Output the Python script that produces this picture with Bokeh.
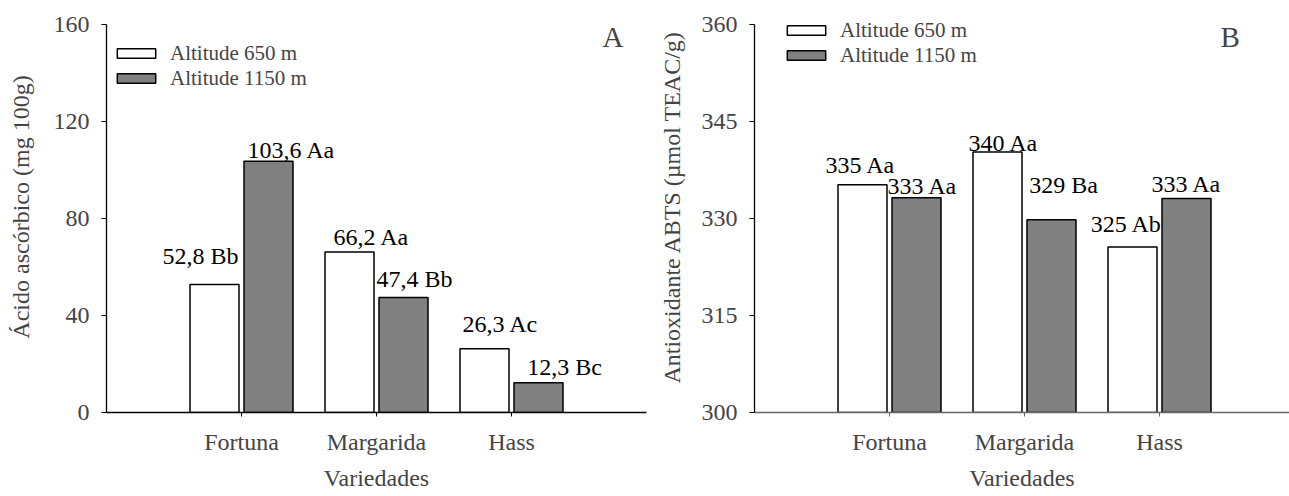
from bokeh.plotting import figure
from bokeh.layouts import row
from bokeh.models import FixedTicker, Legend, LegendItem, Label, ColumnDataSource
from bokeh.embed import file_html
from bokeh.resources import INLINE

# ---------------- data ----------------
categories = ["Fortuna", "Margarida", "Hass"]
series_names = ["Altitude 650 m", "Altitude 1150 m"]

acido_650 = [52.8, 66.2, 26.3]
acido_1150 = [103.6, 47.4, 12.3]
acido_lab_650 = ["52,8 Bb", "66,2 Aa", "26,3 Ac"]
acido_lab_1150 = ["103,6 Aa", "47,4 Bb", "12,3 Bc"]

abts_650 = [335.2, 340.3, 325.6]
abts_1150 = [333.2, 329.8, 333.1]
abts_lab_650 = ["335 Aa", "340 Aa", "325 Ab"]
abts_lab_1150 = ["333 Aa", "329 Ba", "333 Aa"]

acido_ticks = [0, 40, 80, 120, 160]
abts_ticks = [300, 315, 330, 345, 360]

# ---------------- styles ----------------
FONT = "Liberation Serif"
GRAY = "#808080"
BASE_FIX = 7  # px correction of rendered baseline
AXIS_PX = 388  # pixel height between first and last y tick
FRAME_PX = 411  # frame height (frame extends above last tick so legends fit)
acido_dx = ([-14, 22, 16], [23, 11, 26])
acido_dy = ([21, 8, 18], [4, 12, 9])
abts_dx = ([-2, 6, -6], [6, 12, 0])
abts_dy = ([13, 2, 16], [5, 28, 7])


def make_panel(width, border_left, border_right, x_end, ticks,
               vals, labs, dxs, dys, ylabel, ylabel_standoff, letter, letter_x,
               legend_loc, xaxis_color):
    span = ticks[-1] - ticks[0]
    y_end = ticks[0] + FRAME_PX * span / AXIS_PX
    p = figure(width=width, height=496, x_range=(0, x_end), y_range=(ticks[0], y_end),
               output_backend="svg", toolbar_location=None,
               min_border_left=border_left, min_border_right=border_right,
               min_border_top=1, min_border_bottom=84)
    p.outline_line_color = None
    p.grid.visible = False
    p.background_fill_color = "white"

    pos = list(range(1, len(categories) + 1))
    renderers = []
    for k, (shift, fill) in enumerate([(-0.2, "white"), (0.2, GRAY)]):
        xs = [c + shift for c in pos]
        src = ColumnDataSource(dict(x=xs, top=vals[k], lab=labs[k],
                                    dx=dxs[k], dy=[-(d + BASE_FIX) for d in dys[k]]))
        r = p.vbar(x="x", top="top", bottom=ticks[0], width=0.363, source=src,
                   fill_color=fill, line_color="black", line_width=1.5)
        renderers.append(r)
        p.text(x="x", y="top", text="lab", source=src, x_offset="dx", y_offset="dy",
               text_font=FONT, text_font_size="24px", text_align="center",
               text_baseline="alphabetic", text_color="black")

    legend = Legend(items=[LegendItem(label=series_names[i], renderers=[renderers[i]])
                           for i in range(2)],
                    location=legend_loc)
    legend.glyph_width = 48
    legend.glyph_height = 12
    legend.label_text_font = FONT
    legend.label_text_font_size = "21px"
    legend.label_height = 24
    legend.label_standoff = 10
    legend.spacing = 0
    legend.padding = 0
    legend.margin = 0
    legend.border_line_color = None
    legend.background_fill_alpha = 0
    p.add_layout(legend)

    p.add_layout(Label(x=letter_x, y=376, x_units="screen", y_units="screen",
                       text=letter, text_font=FONT, text_font_size="29px",
                       text_baseline="alphabetic"))

    # x axis
    xa = p.xaxis[0]
    xa.ticker = FixedTicker(ticks=pos)
    xa.major_label_overrides = {c: categories[i] for i, c in enumerate(pos)}
    xa.minor_tick_line_color = None
    xa.major_tick_in = 0
    xa.major_tick_out = 4
    xa.axis_line_color = xaxis_color
    xa.major_tick_line_color = xaxis_color
    xa.axis_line_width = 1.5
    xa.major_label_text_font = FONT
    xa.major_label_text_font_size = "24px"
    xa.major_label_standoff = 12
    xa.axis_label = "Variedades"
    xa.axis_label_text_font = FONT
    xa.axis_label_text_font_size = "24px"
    xa.axis_label_text_font_style = "normal"
    xa.axis_label_standoff = 7

    ya = p.yaxis[0]
    ya.ticker = FixedTicker(ticks=ticks)
    ya.bounds = (ticks[0], ticks[-1])
    ya.minor_tick_line_color = None
    ya.major_tick_in = 0
    ya.major_tick_out = 5
    ya.axis_line_color = "black"
    ya.axis_line_width = 1.3
    ya.major_label_text_font = FONT
    ya.major_label_text_font_size = "24px"
    ya.major_label_standoff = 12
    ya.axis_label = ylabel
    ya.axis_label_text_font = FONT
    ya.axis_label_text_font_size = "24px"
    ya.axis_label_text_font_style = "normal"
    ya.axis_label_standoff = ylabel_standoff
    return p


# left panel: frame 106..646 px
p1 = make_panel(654, 106, 8, 4.0, acido_ticks,
                (acido_650, acido_1150), (acido_lab_650, acido_lab_1150),
                acido_dx, acido_dy, "Ácido ascórbico (mg 100g)", 17, "A", 496,
                (6, 321.5), "black")
# right panel: frame 754..1289 px (cut at window edge)
p2 = make_panel(635, 100, 0, 4.0 * 535 / 540, abts_ticks,
                (abts_650, abts_1150), (abts_lab_650, abts_lab_1150),
                abts_dx, abts_dy, "Antioxidante ABTS (µmol TEAC/g)", 14, "B", 466,
                (28, 344.5), "#666666")

layout = row(p1, p2, spacing=0)
open("out.html", "w").write(file_html(layout, INLINE))
